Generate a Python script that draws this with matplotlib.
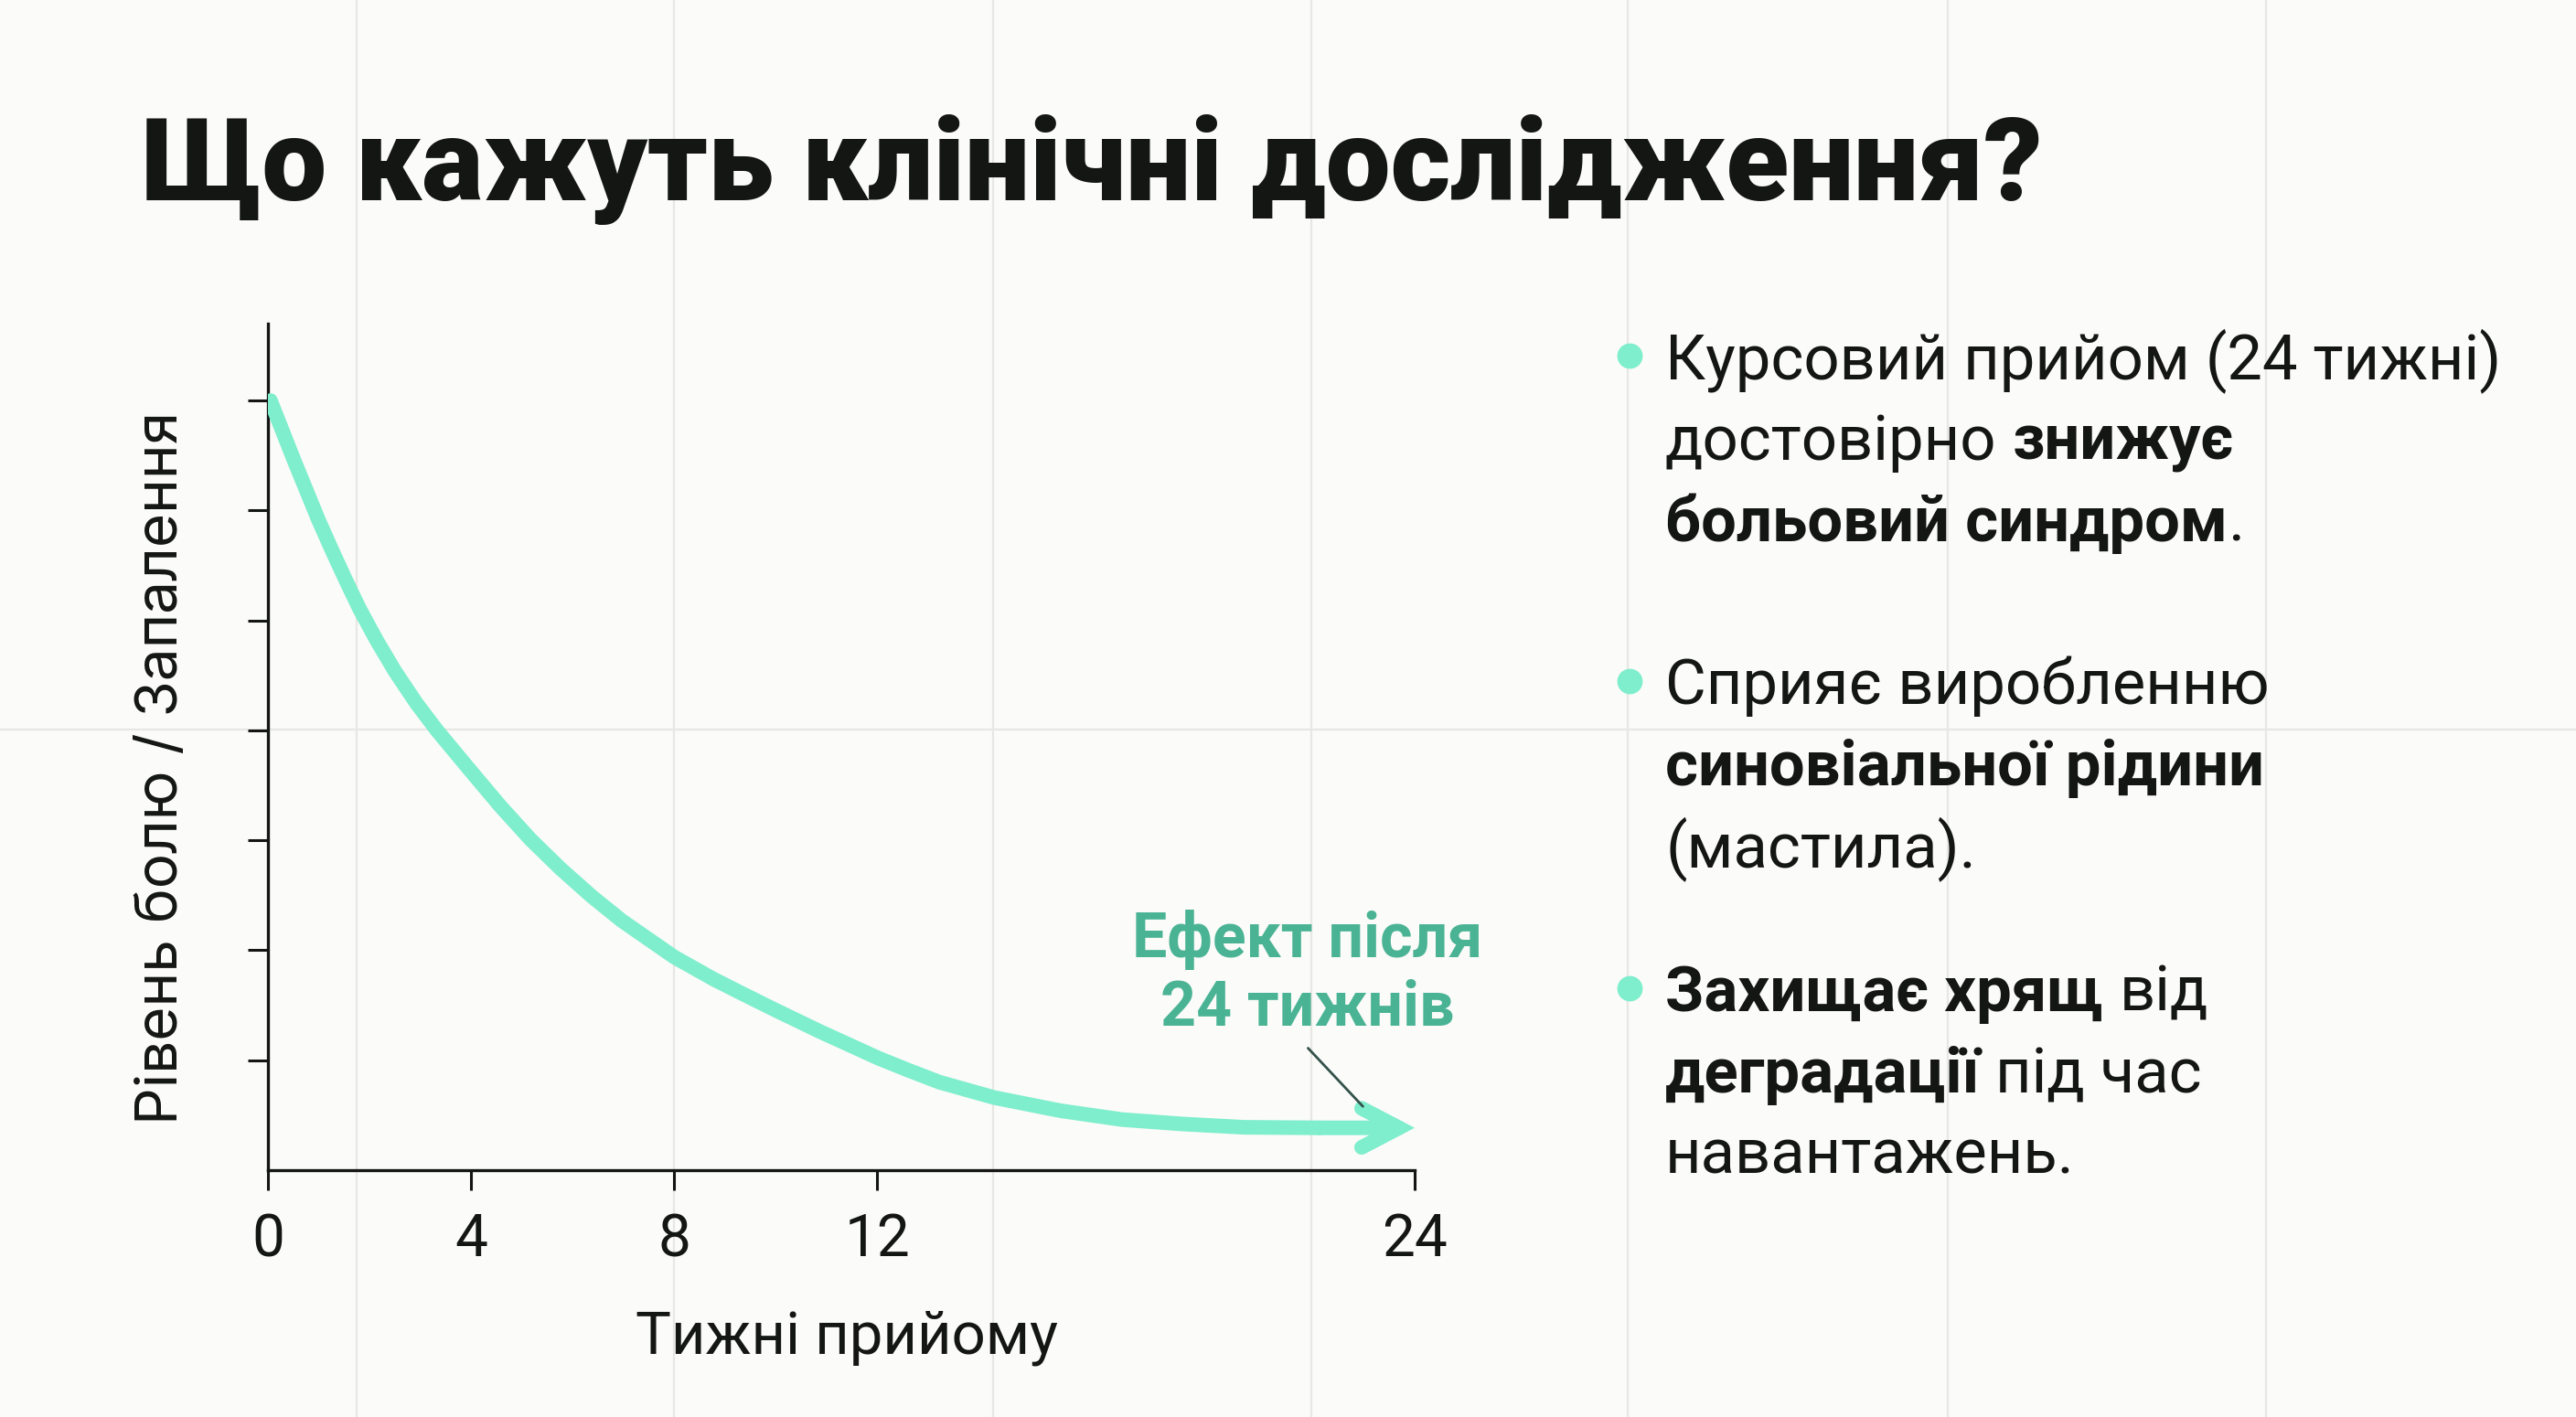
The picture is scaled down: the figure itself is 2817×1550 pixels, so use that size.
import matplotlib
matplotlib.use("Agg")
import matplotlib.pyplot as plt
from matplotlib.lines import Line2D

# data (x in axis position units, last tick = 24 weeks)
weeks_pos = [0.05, 0.52, 0.76, 0.99, 1.26, 1.53, 1.80, 2.14, 2.50, 2.92, 3.33,
             3.96, 4.58, 5.17, 5.77, 6.38, 6.97, 8.00, 8.77, 9.37, 9.98, 10.88,
             12.02, 12.61, 13.23, 14.31, 15.62, 16.83, 18.02, 19.23, 20.72, 22.59]
pain_level = [7.00, 6.45, 6.18, 5.92, 5.64, 5.37, 5.11, 4.82, 4.54, 4.25, 4.00,
              3.65, 3.31, 3.01, 2.74, 2.49, 2.27, 1.94, 1.74, 1.60, 1.46, 1.26,
              1.02, 0.91, 0.80, 0.66, 0.54, 0.46, 0.42, 0.39, 0.385, 0.385]
x_tick_pos = [0, 4, 8, 12, 22.59]
x_tick_labels = ["0", "4", "8", "12", "24"]
y_tick_pos = [1, 2, 3, 4, 5, 6, 7]

title = "Що кажуть клінічні дослідження?"
x_label = "Тижні прийому"
y_label = "Рівень болю / Запалення"
note_lines = ["Ефект після", "24 тижнів"]

# bullets: each line is a list of (text, bold, space_before)
bullets = [
    [[("Курсовий прийом (24 тижні)", False, 0)],
     [("достовірно", False, 0), ("знижує", True, 1)],
     [("больовий синдром", True, 0), (".", False, 0)]],
    [[("Сприяє виробленню", False, 0)],
     [("синовіальної рідини", True, 0)],
     [("(мастила).", False, 0)]],
    [[("Захищає хрящ", True, 0), ("від", False, 1)],
     [("деградації", True, 0), ("під час", False, 1)],
     [("навантажень.", False, 0)]],
]

mint = "#7EEECC"
teal = "#4AB394"
ink = "#141614"
bg = "#FBFBF9"

W, H = 2817, 1550
fig = plt.figure(figsize=(W / 100, H / 100), dpi=100, facecolor=bg)

# faint slide grid in background
for gx in [390, 737, 1086, 1434, 1780, 2130, 2478]:
    fig.add_artist(Line2D([gx / W, gx / W], [0, 1], color="#E7E7E3", lw=1.6, zorder=0))
fig.add_artist(Line2D([0, 1], [1 - 798 / H, 1 - 798 / H], color="#E7E7E3", lw=1.6, zorder=0))

ax = fig.add_axes([293 / W, 1 - 1280 / H, (1547 - 293) / W, (1280 - 354) / H])
ax.set_facecolor("none")
ax.set_xlim(0, x_tick_pos[-1])
ax.set_ylim(0, 7.7)
for s in ["top", "right"]:
    ax.spines[s].set_visible(False)
for s in ["left", "bottom"]:
    ax.spines[s].set_linewidth(2.4)
    ax.spines[s].set_color(ink)

ax.plot(weeks_pos[:-1], pain_level[:-1], color=mint, lw=11.5,
        solid_capstyle="round", solid_joinstyle="round", zorder=3)
ax.annotate("", xy=(weeks_pos[-1], pain_level[-1]), xytext=(weeks_pos[-2], pain_level[-2]),
            arrowprops=dict(arrowstyle="->,head_length=0.42,head_width=0.22", color=mint,
                            lw=11.5, mutation_scale=70, shrinkA=0, shrinkB=0,
                            capstyle="round", joinstyle="miter"), zorder=3)

ax.set_xticks(x_tick_pos)
ax.set_xticklabels(x_tick_labels)
ax.set_yticks(y_tick_pos)
ax.set_yticklabels([])
ax.tick_params(axis="both", length=15.5, width=2.2, color=ink, direction="out")
ax.tick_params(axis="x", pad=17, labelsize=46, labelcolor=ink)
for lab in ax.get_xticklabels():
    lab.set_family("Roboto")

# annotation near the arrow
ax.text(20.47, 1.94, note_lines[0], ha="center", va="baseline", fontsize=49,
        fontweight="bold", color=teal, family="Roboto")
ax.text(20.47, 1.31, note_lines[1], ha="center", va="baseline", fontsize=49,
        fontweight="bold", color=teal, family="Roboto")
ax.annotate("", xy=(21.57, 0.58), xytext=(20.49, 1.11),
            arrowprops=dict(arrowstyle="-", color="#33514A", lw=2.0, shrinkA=0, shrinkB=0))

# title and axis labels
fig.text(154 / W, 1 - 219 / H, title, fontsize=91, fontweight="black", color=ink,
         family="Roboto", ha="left", va="baseline")
fig.text(926 / W, 1 - 1480 / H, x_label, fontsize=47, color=ink, family="Roboto",
         ha="center", va="baseline")
fig.text(178 / W, 1 - 840 / H, y_label, fontsize=46, color=ink, family="Inter",
         rotation=90, ha="center", va="center")

# bullet list
text_x = 1821 / W
dot_x = 1782 / W
first_baselines = [414, 770, 1106]
line_step = 89
fs = 49.5
for bi, lines in enumerate(bullets):
    base = first_baselines[bi]
    fig.add_artist(Line2D([dot_x], [1 - (base - 25) / H], marker="o", markersize=19,
                          color=mint, lw=0))
    for li, segs in enumerate(lines):
        y = 1 - (base + li * line_step) / H
        last = None
        for txt, bold, gap in segs:
            w = "bold" if bold else "normal"
            if last is None:
                last = fig.text(text_x, y, txt, fontsize=fs, fontweight=w, color=ink,
                                family="Roboto", ha="left", va="baseline")
            else:
                last = ax.annotate(txt, xy=(1, 0), xycoords=last, xytext=(gap * 12.3, 0),
                                   textcoords="offset points", fontsize=fs, fontweight=w,
                                   color=ink, family="Roboto", ha="left", va="bottom",
                                   annotation_clip=False)

fig.savefig("out.png", dpi=100, facecolor=bg)
